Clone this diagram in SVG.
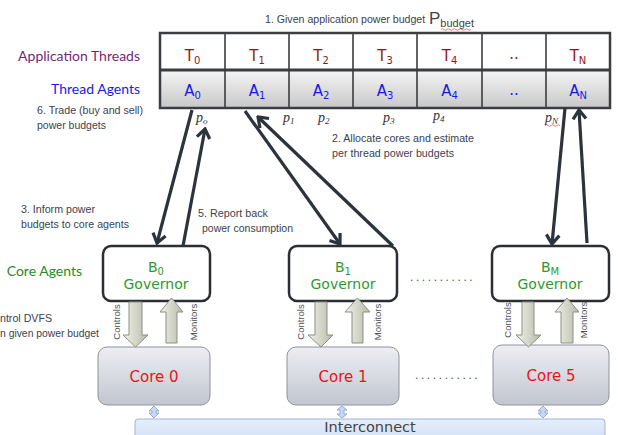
<svg xmlns="http://www.w3.org/2000/svg" width="618" height="435" viewBox="0 0 618 435">
<defs>
<linearGradient id="gAgent" x1="0" y1="0" x2="0" y2="1"><stop offset="0" stop-color="#f5f5f5"/><stop offset="1" stop-color="#c8c8c8"/></linearGradient>
<linearGradient id="gCore" x1="0" y1="0" x2="0" y2="1"><stop offset="0" stop-color="#eceef3"/><stop offset="1" stop-color="#c2c6cf"/></linearGradient>
<linearGradient id="gBlock" x1="0" y1="0" x2="1" y2="0"><stop offset="0" stop-color="#f2f2ea"/><stop offset="1" stop-color="#b6baa8"/></linearGradient>
<linearGradient id="gIc" x1="0" y1="0" x2="0" y2="1"><stop offset="0" stop-color="#e6eefb"/><stop offset="1" stop-color="#c8d8f3"/></linearGradient>
<marker id="chev" viewBox="-12 -9 14 18" refX="0" refY="0" markerWidth="14" markerHeight="18" markerUnits="userSpaceOnUse" orient="auto">
<path d="M-9,-6.5 L0,0 L-9,6.5" fill="none" stroke="#2b333d" stroke-width="3.2"/>
</marker>
</defs>
<style>
.lbl{font-family:"Liberation Sans",Arial,sans-serif;font-size:11.5px;fill:#3b4350}
.cell{font-family:"DejaVu Sans",Verdana,sans-serif;font-size:15px;text-anchor:middle}
.t{fill:#8b1a1a}
.a{fill:#1a1ae6}
.sub{font-size:10px}
.side{font-family:Lato,"Open Sans",sans-serif;font-size:14px;text-anchor:end}
.gov{fill:#fff;stroke:#2b2f33;stroke-width:2.5}
.govt{font-family:"DejaVu Sans",Verdana,sans-serif;font-size:14px;fill:#2e9a2e;text-anchor:middle}
.core{fill:url(#gCore);stroke:#8d929c;stroke-width:1}
.coret{font-family:"DejaVu Sans",Verdana,sans-serif;font-size:15px;fill:#e8141c;text-anchor:middle}
.blk{fill:url(#gBlock);stroke:#8c907f;stroke-width:1}
.vt{font-family:"Liberation Sans",Arial,sans-serif;font-size:9.5px;fill:#4a4f57;text-anchor:middle}
.pv{font-family:"Liberation Serif","Times New Roman",serif;font-style:italic;font-size:14px;fill:#333}
.pvs{font-size:9px}
.conn{fill:none;stroke:#2b333d;stroke-width:3.2;marker-end:url(#chev)}
.dots{font-family:"Liberation Sans",Arial,sans-serif;font-size:12px;fill:#555;letter-spacing:2.6px}
.ic{fill:#c9d8f2;stroke:#95acd6;stroke-width:1}
</style>

<g id="labels">
<text class="side" x="140" y="61" fill="#7a1f7a">Application Threads</text>
<text class="side" x="140" y="94" fill="#1a1ae6">Thread Agents</text>
<text class="side" x="82" y="276" fill="#2a8a2a">Core Agents</text>
<text class="lbl" x="265" y="23" style="font-size:10.6px">1. Given application power budget</text>
<text font-family="Liberation Sans,Arial,sans-serif" font-size="17" fill="#444" x="429" y="24">P<tspan font-size="11" dy="3">budget</tspan></text>
<path d="M441,29.5 q1.5,-1.5 3,0 t3,0 t3,0 t3,0 t3,0 t3,0 t3,0 t3,0 t3,0 t3,0" fill="none" stroke="#e04040" stroke-width="0.7"/>
<text class="lbl" x="37" y="114" textLength="106" lengthAdjust="spacingAndGlyphs">6. Trade (buy and sell)</text>
<text class="lbl" x="37" y="129" textLength="69" lengthAdjust="spacingAndGlyphs">power budgets</text>
<text class="lbl" x="332" y="142" textLength="142" lengthAdjust="spacingAndGlyphs">2. Allocate cores and estimate</text>
<text class="lbl" x="332" y="157" textLength="122" lengthAdjust="spacingAndGlyphs">per thread power budgets</text>
<text class="lbl" x="21" y="213" textLength="74" lengthAdjust="spacingAndGlyphs">3. Inform power</text>
<text class="lbl" x="21" y="228" textLength="108" lengthAdjust="spacingAndGlyphs">budgets to core agents</text>
<text class="lbl" x="198" y="217" textLength="70" lengthAdjust="spacingAndGlyphs">5. Report back</text>
<text class="lbl" x="202" y="232" textLength="91" lengthAdjust="spacingAndGlyphs">power consumption</text>
<text class="lbl" x="0" y="322" textLength="52" lengthAdjust="spacingAndGlyphs">ntrol DVFS</text>
<text class="lbl" x="0" y="337" textLength="99" lengthAdjust="spacingAndGlyphs">n given power budget</text>
</g>

<g id="threads">
<rect x="160" y="33" width="450" height="37" fill="#fff"/>
<rect x="160" y="70" width="450" height="38" fill="url(#gAgent)"/>
<g stroke="#3a3d42" stroke-width="1.6">
<line x1="225" y1="33" x2="225" y2="108"/>
<line x1="289" y1="33" x2="289" y2="108"/>
<line x1="353" y1="33" x2="353" y2="108"/>
<line x1="417" y1="33" x2="417" y2="108"/>
<line x1="482" y1="33" x2="482" y2="108"/>
<line x1="546" y1="33" x2="546" y2="108"/>
</g>
<line x1="160" y1="70" x2="610" y2="70" stroke="#3a3d42" stroke-width="3"/>
<rect x="160" y="33" width="450" height="75" fill="none" stroke="#3a3d42" stroke-width="2.5"/>
<text class="cell t" x="192.5" y="61">T<tspan class="sub" dy="3">0</tspan></text>
<text class="cell t" x="257" y="61">T<tspan class="sub" dy="3">1</tspan></text>
<text class="cell t" x="321" y="61">T<tspan class="sub" dy="3">2</tspan></text>
<text class="cell t" x="385" y="61">T<tspan class="sub" dy="3">3</tspan></text>
<text class="cell t" x="449.5" y="61">T<tspan class="sub" dy="3">4</tspan></text>
<text class="cell t" x="514" y="59">..</text>
<text class="cell t" x="578" y="61">T<tspan class="sub" dy="3">N</tspan></text>
<text class="cell a" x="192.5" y="96">A<tspan class="sub" dy="3">0</tspan></text>
<text class="cell a" x="257" y="96">A<tspan class="sub" dy="3">1</tspan></text>
<text class="cell a" x="321" y="96">A<tspan class="sub" dy="3">2</tspan></text>
<text class="cell a" x="385" y="96">A<tspan class="sub" dy="3">3</tspan></text>
<text class="cell a" x="449.5" y="96">A<tspan class="sub" dy="3">4</tspan></text>
<text class="cell a" x="514" y="95">..</text>
<text class="cell a" x="578" y="96">A<tspan class="sub" dy="3">N</tspan></text>
</g>

<g id="plabels">
<text class="pv" x="196" y="122">p<tspan class="pvs" dy="2">o</tspan></text>
<text class="pv" x="283" y="122">p<tspan class="pvs" dy="2">1</tspan></text>
<text class="pv" x="318" y="122">p<tspan class="pvs" dy="2">2</tspan></text>
<text class="pv" x="383" y="122">p<tspan class="pvs" dy="2">3</tspan></text>
<text class="pv" x="433" y="120">p<tspan class="pvs" dy="2">4</tspan></text>
<text class="pv" x="545" y="122">p<tspan class="pvs" dy="2">N</tspan></text>
<path d="M545,125.5 q1.5,-1.5 3,0 t3,0 t3,0 t3,0 t3,0" fill="none" stroke="#e04040" stroke-width="0.7"/>
</g>

<g id="B0">
<rect class="gov" x="103" y="246" width="107" height="55" rx="8"/>
<text class="govt" x="156" y="272">B<tspan class="sub" dy="3">0</tspan></text>
<text class="govt" x="156" y="289">Governor</text>
</g>
<g id="B1">
<rect class="gov" x="289" y="246" width="108" height="55" rx="8"/>
<text class="govt" x="343" y="272">B<tspan class="sub" dy="3">1</tspan></text>
<text class="govt" x="343" y="289">Governor</text>
</g>
<g id="BM">
<rect class="gov" x="492" y="246" width="117" height="55" rx="8"/>
<text class="govt" x="550" y="272">B<tspan class="sub" dy="3">M</tspan></text>
<text class="govt" x="550" y="289">Governor</text>
</g>
<text class="dots" x="410" y="281">...........</text>

<g id="core0">
<rect class="core" x="98" y="347" width="112" height="58" rx="9"/>
<text class="coret" x="154" y="382">Core 0</text>
</g>
<g id="core1">
<rect class="core" x="287" y="347" width="112" height="58" rx="9"/>
<text class="coret" x="343" y="382">Core 1</text>
</g>
<g id="core5">
<rect class="core" x="493" y="345" width="116" height="60" rx="9"/>
<text class="coret" x="551" y="381">Core 5</text>
</g>
<text class="dots" x="415" y="379">...........</text>

<g id="interconnect">
<rect x="135" y="419" width="470" height="30" rx="3" fill="url(#gIc)" stroke="#9fb4da" stroke-width="1"/>
<text x="370" y="432" font-family="DejaVu Sans,Verdana,sans-serif" font-size="14.5" fill="#444" text-anchor="middle">Interconnect</text>
</g>

<g id="connectors">
<path class="conn" d="M192,110 L157,243"/>
<path class="conn" d="M183,246 L205,129"/>
<path class="conn" d="M245,111 L340,244"/>
<path class="conn" d="M393,246 L258,117"/>
<path class="conn" d="M565,108 L552,244"/>
<path class="conn" d="M587,243 L579,110"/>
<path class="blk" d="M129,302 L142,302 L142,335 L148,335 L135.5,347 L123,335 L129,335 Z"/>
<path class="blk" d="M166,343 L177,343 L177,312 L183,312 L171.5,298 L160,312 L166,312 Z"/>
<path class="blk" d="M315,302 L327,302 L327,335 L333,335 L321,347 L308,335 L315,335 Z"/>
<path class="blk" d="M352,343 L363,343 L363,312 L370,312 L357.5,298 L345,312 L352,312 Z"/>
<path class="blk" d="M522,302 L534,302 L534,335 L541,335 L528.5,347 L516,335 L522,335 Z"/>
<path class="blk" d="M561,343 L573,343 L573,312 L579,312 L567,298 L555,312 L561,312 Z"/>
<text class="vt" transform="translate(120,322) rotate(-90)">Controls</text>
<text class="vt" transform="translate(197,322) rotate(-90)">Monitors</text>
<text class="vt" transform="translate(304,322) rotate(-90)">Controls</text>
<text class="vt" transform="translate(381,322) rotate(-90)">Monitors</text>
<text class="vt" transform="translate(511,320) rotate(-90)">Controls</text>
<text class="vt" transform="translate(587,320) rotate(-90)">Monitors</text>
<path class="ic" d="M154,406 L159,411 L156,411 L156,413 L159,413 L154,418 L149,413 L152,413 L152,411 L149,411 Z"/>
<path class="ic" d="M342,406 L347,410 L344,410 L344,414 L347,414 L342,418 L337,414 L340,414 L340,410 L337,410 Z"/>
<path class="ic" d="M543,406 L548,411 L545,411 L545,413 L548,413 L543,418 L538,413 L541,413 L541,411 L538,411 Z"/>
</g>
</svg>
